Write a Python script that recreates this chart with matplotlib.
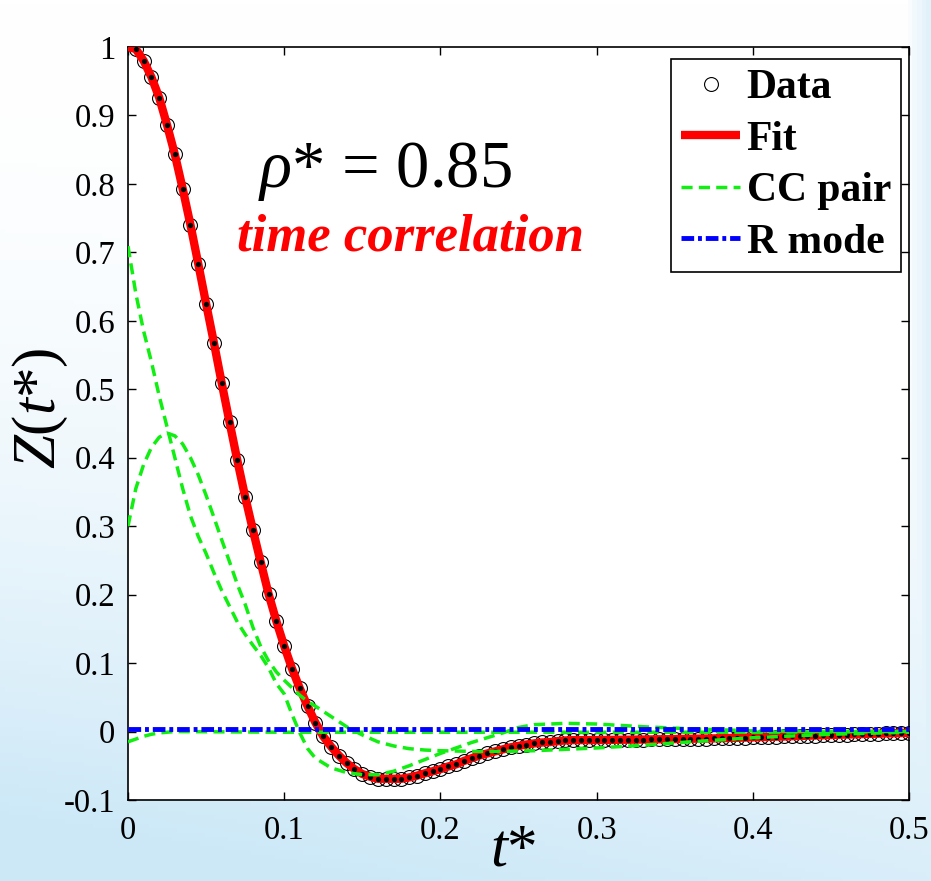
import numpy as np
import matplotlib
matplotlib.use("Agg")
import matplotlib.pyplot as plt
from matplotlib.ticker import FixedLocator, FuncFormatter

plt.rcParams['font.family'] = ['Liberation Serif', 'DejaVu Serif']
plt.rcParams['mathtext.fontset'] = 'custom'
plt.rcParams['mathtext.rm'] = 'Liberation Serif'
plt.rcParams['mathtext.it'] = 'Liberation Serif:italic'
plt.rcParams['mathtext.bf'] = 'Liberation Serif:bold'
plt.rcParams['axes.unicode_minus'] = False

# ---------------- data ----------------
data_t = [0.005 * k for k in range(1, 101)]
data_z = [0.997, 0.980, 0.956, 0.926, 0.886, 0.843, 0.793, 0.740, 0.683, 0.625,
          0.568, 0.509, 0.452, 0.396, 0.343, 0.294, 0.247, 0.201, 0.161, 0.125,
          0.092, 0.063, 0.037, 0.013, -0.007, -0.022, -0.035, -0.046, -0.055, -0.062,
          -0.066, -0.069, -0.069, -0.069, -0.069, -0.067, -0.0645, -0.061, -0.058, -0.055,
          -0.051, -0.048, -0.043, -0.039, -0.035, -0.032, -0.029, -0.026, -0.023, -0.021,
          -0.019, -0.0173, -0.016, -0.0155, -0.014, -0.013, -0.0125, -0.0125, -0.0125, -0.0125,
          -0.0123, -0.0122, -0.012, -0.012, -0.0118, -0.0117, -0.0115, -0.0113, -0.0112, -0.011,
          -0.0108, -0.0106, -0.0104, -0.0102, -0.010, -0.0097, -0.0094, -0.0091, -0.0088, -0.0085,
          -0.0082, -0.0079, -0.0075, -0.0072, -0.0068, -0.0065, -0.0061, -0.0058, -0.0054, -0.005,
          -0.0047, -0.0044, -0.0041, -0.0038, -0.0034, -0.0031, -0.0028, -0.0025, -0.0022, -0.002]

fit_t0 = 0.0
fit_z0 = 1.0

cc1_t = [0.0, 0.005, 0.01, 0.015, 0.02, 0.025, 0.03, 0.035, 0.04, 0.045, 0.05, 0.055, 0.06,
         0.065, 0.07, 0.075, 0.08, 0.085, 0.09, 0.095, 0.1, 0.105, 0.11, 0.115, 0.12, 0.13,
         0.14, 0.15, 0.16, 0.17, 0.18, 0.19, 0.2, 0.21, 0.22, 0.23, 0.24, 0.25, 0.26, 0.28,
         0.3, 0.33, 0.36, 0.4, 0.45, 0.5]
cc1_z = [0.709, 0.64, 0.585, 0.54, 0.49, 0.445, 0.40, 0.355, 0.315, 0.285, 0.26, 0.232, 0.206,
         0.183, 0.16, 0.142, 0.126, 0.111, 0.093, 0.07, 0.055, 0.025, -0.002, -0.025, -0.039, -0.053,
         -0.06, -0.063, -0.063, -0.058, -0.05, -0.041, -0.032, -0.024, -0.016, -0.009, -0.002, 0.006, 0.01, 0.012,
         0.011, 0.007, 0.004, 0.001, 0.0, 0.0]

cc2_t = [0.0, 0.005, 0.01, 0.015, 0.02, 0.025, 0.03, 0.035, 0.04, 0.045, 0.05, 0.055, 0.06,
         0.065, 0.07, 0.075, 0.08, 0.085, 0.09, 0.095, 0.1, 0.105, 0.11, 0.115, 0.12, 0.13,
         0.14, 0.15, 0.16, 0.17, 0.18, 0.19, 0.2, 0.22, 0.24, 0.26, 0.28, 0.3, 0.33, 0.36,
         0.4, 0.45, 0.5]
cc2_z = [0.30, 0.355, 0.39, 0.415, 0.43, 0.436, 0.432, 0.42, 0.40, 0.375, 0.345, 0.313, 0.28,
         0.248, 0.215, 0.186, 0.152, 0.124, 0.103, 0.087, 0.075, 0.064, 0.053, 0.044, 0.037, 0.022,
         0.007, -0.005, -0.015, -0.021, -0.025, -0.027, -0.028, -0.029, -0.029, -0.028, -0.026, -0.024, -0.02, -0.015,
         -0.009, -0.004, -0.001]

cc3_t = [0.0, 0.005, 0.01, 0.015, 0.02, 0.025, 0.03, 0.1, 0.2, 0.3, 0.4, 0.5]
cc3_z = [-0.015, -0.011, -0.007, -0.004, -0.002, -0.001, 0.0, -0.001, -0.001, -0.001, -0.001, 0.0]

r_t = [0.0, 0.1, 0.2, 0.3, 0.4, 0.5]
r_z = [0.003, 0.003, 0.003, 0.003, 0.003, 0.003]

xticks = [0, 0.1, 0.2, 0.3, 0.4, 0.5]
yticks = [-0.1, 0, 0.1, 0.2, 0.3, 0.4, 0.5, 0.6, 0.7, 0.8, 0.9, 1.0]

# ---------------- figure ----------------
W, H = 931, 881
fig = plt.figure(figsize=(W / 100, H / 100), dpi=100)

# soft sky-like background
bg = fig.add_axes([0, 0, 1, 1], zorder=-10)
yy, xx = np.mgrid[0:1:200j, 0:1:200j]   # yy=0 top
a = np.clip(1.15 * (yy ** 2.0) * (1.0 - 0.35 * xx), 0, 1)
a = np.maximum(a, np.clip((xx - 0.975) * 40, 0, 1) * 0.6)
white = np.array([1.0, 1.0, 1.0])
blue = np.array([0.80, 0.91, 0.97])
img = white[None, None, :] * (1 - a[..., None]) + blue[None, None, :] * a[..., None]
bg.imshow(img, aspect='auto', extent=[0, 1, 0, 1], origin='upper')
bg.axis('off')

L, R, T, B = 128, 909, 47, 800
ax = fig.add_axes([L / W, 1 - B / H, (R - L) / W, (B - T) / H])
ax.set_facecolor('white')

fit_t = [fit_t0] + data_t
fit_z = [fit_z0] + data_z

ax.plot(data_t, data_z, linestyle='none', marker='o', ms=10, mfc='none',
        mec='black', mew=0.8, label='Data', zorder=2)
ax.plot(fit_t, fit_z, color='#ff0000', lw=6, solid_capstyle='butt', label='Fit', zorder=3)
ax.plot(data_t, data_z, linestyle='none', marker='o', ms=3.8, mfc='black', mec='black',
        mew=0, zorder=4, label='_nolegend_')
green = '#11ee11'
gdash = (3.2, 1.8)
ax.plot(cc1_t, cc1_z, color=green, lw=2.5, dashes=gdash, label='CC pair', zorder=5)
ax.plot(cc2_t, cc2_z, color=green, lw=2.5, dashes=gdash, zorder=5, label='_nolegend_')
ax.plot(cc3_t, cc3_z, color=green, lw=2.5, dashes=gdash, zorder=5, label='_nolegend_')
ax.plot(r_t, r_z, color='#0000ff', lw=3.5, dashes=(2.6, 0.8, 0.8, 0.8), label='R mode', zorder=6)

ax.set_xlim(0, 0.5)
ax.set_ylim(-0.1, 1.0)
ax.xaxis.set_major_locator(FixedLocator(xticks))
ax.yaxis.set_major_locator(FixedLocator(yticks))
fmt = FuncFormatter(lambda v, p: ('%g' % round(v, 3)))
ax.xaxis.set_major_formatter(fmt)
ax.yaxis.set_major_formatter(fmt)
ax.tick_params(direction='in', length=6, width=1, top=True, right=True,
               labelsize=23.5, colors='black')
ax.tick_params(axis='y', pad=9)
ax.tick_params(axis='x', pad=11)
for s in ax.spines.values():
    s.set_linewidth(1.2)
    s.set_color('black')

ax.set_xlabel(r'$t$*', fontsize=44)
ax.xaxis.set_label_coords((513 - L) / (R - L), (B - 879) / (B - T))
ax.xaxis.label.set_va('bottom')
ax.set_ylabel(r'$Z$($t$*)', fontsize=44)
ax.yaxis.set_label_coords((40 - L) / (R - L), (B - 408) / (B - T))
ax.yaxis.label.set_va('center')

ax.text(0.083, 0.795, r'$\rho$* = 0.85', fontsize=48, ha='left', va='baseline', zorder=8)
ax.text(0.070, 0.703, 'time correlation', fontsize=38, color='#ff0000',
        fontweight='bold', fontstyle='italic', ha='left', va='baseline', zorder=8)

leg = ax.legend(loc='upper right', bbox_to_anchor=((901 - L) / (R - L), (B - 59) / (B - T)),
                borderaxespad=0, fancybox=False, framealpha=1, edgecolor='black',
                prop={'weight': 'bold', 'size': 30}, handlelength=1.42, handletextpad=0.15,
                labelspacing=0.32, borderpad=0.24, numpoints=1)
leg.get_frame().set_linewidth(1.2)
leg.set_zorder(10)

fig.savefig('out.png', dpi=100, facecolor=fig.get_facecolor())
